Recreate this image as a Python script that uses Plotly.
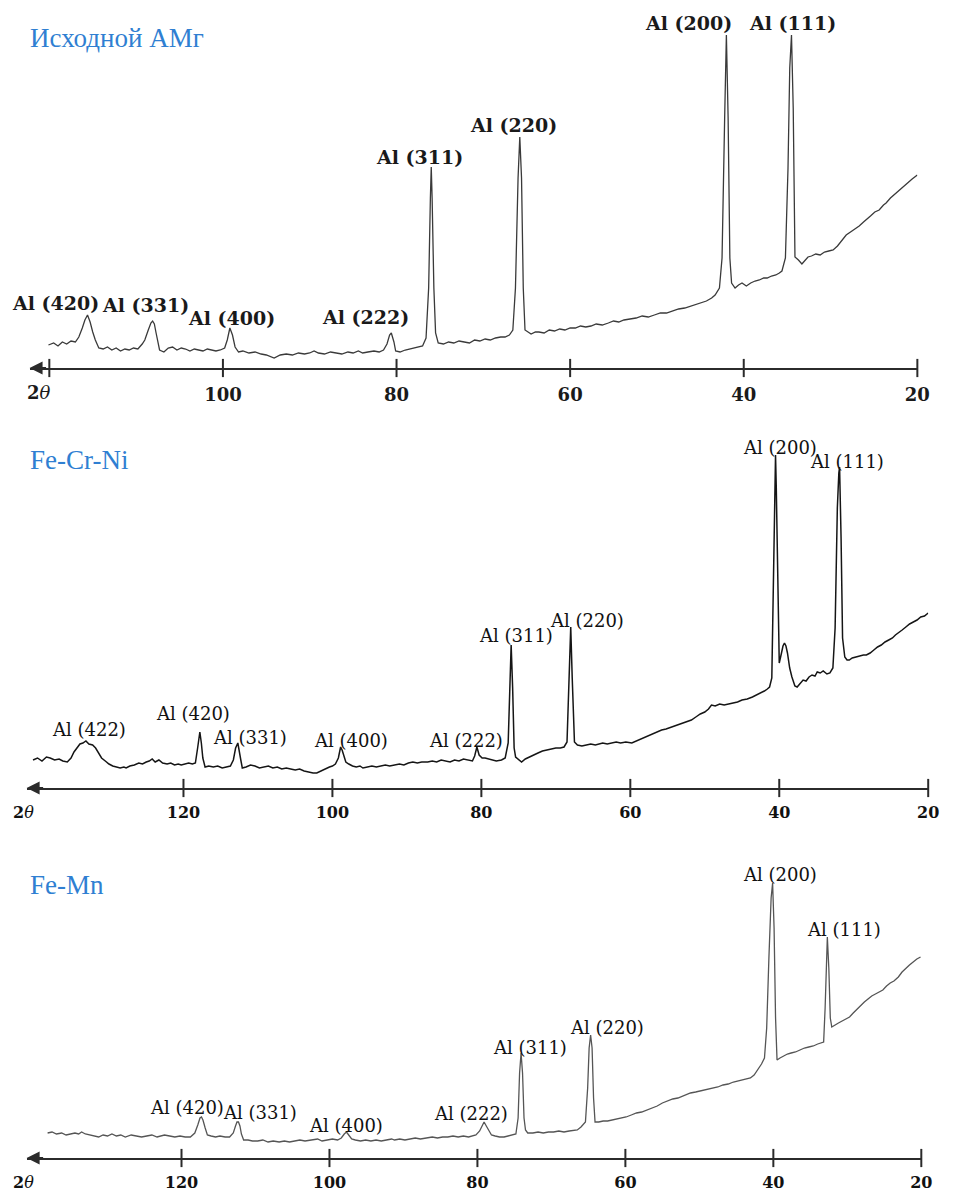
import plotly.graph_objects as go

# ---------------------------------------------------------------
# X-ray diffraction patterns (Cu Ka), intensity in arbitrary units
# ---------------------------------------------------------------

# Исходной АМг
tt_amg = [120.1, 119.5, 119.0, 118.5, 118.0, 117.5, 117.0, 116.6, 116.2, 115.9,
          115.6, 115.3, 115.0, 114.7, 114.3, 113.8, 113.3, 112.8, 112.3, 111.8,
          111.3, 110.8, 110.3, 109.8, 109.3, 109.0, 108.6, 108.3, 108.1, 107.9,
          107.7, 107.3, 106.8, 106.3, 105.8, 105.3, 104.8, 104.3, 103.8, 103.3,
          102.8, 102.3, 101.8, 101.3, 100.8, 100.3, 99.8, 99.5, 99.2, 98.9,
          98.6, 98.2, 97.7, 97.0, 96.3, 95.6, 95.0, 94.1, 93.4, 92.7,
          92.0, 91.3, 90.6, 90.0, 89.5, 89.0, 88.3, 87.6, 87.0, 86.3,
          85.6, 85.0, 84.4, 83.9, 83.3, 82.6, 82.0, 81.5, 81.1, 80.8,
          80.6, 80.3, 80.1, 79.6, 79.0, 78.5, 77.9, 77.4, 77.0, 76.6,
          76.3, 76.1, 76.0, 75.9, 75.7, 75.5, 75.2, 74.6, 74.0, 73.4,
          72.8, 72.2, 71.6, 71.0, 70.4, 69.8, 69.2, 68.6, 68.0, 67.5,
          67.0, 66.6, 66.3, 66.0, 65.8, 65.6, 65.4, 65.2, 64.9, 64.5,
          64.0, 63.6, 63.0, 62.4, 61.8, 61.2, 60.6, 60.0, 59.4, 58.8,
          58.2, 57.6, 57.0, 56.3, 55.6, 55.0, 54.4, 53.8, 53.1, 52.4,
          51.7, 51.0, 50.3, 49.6, 48.9, 48.2, 47.5, 46.8, 46.1, 45.5,
          44.9, 44.3, 43.7, 43.3, 42.8, 42.5, 42.2, 42.0, 41.8, 41.6,
          41.4, 41.0, 40.6, 40.2, 39.7, 39.2, 38.7, 38.2, 37.7, 37.3,
          36.8, 36.3, 35.9, 35.6, 35.2, 34.9, 34.7, 34.5, 34.3, 34.1,
          33.7, 33.3, 33.0, 32.6, 32.2, 31.7, 31.2, 30.7, 30.2, 29.7,
          29.2, 28.7, 28.2, 27.7, 27.2, 26.7, 26.2, 25.9, 25.4, 24.9,
          24.4, 23.9, 23.6, 23.1, 22.6, 22.1, 21.6, 21.1, 20.6, 20.0]
i_amg = [23, 25, 22, 26, 24, 27, 26, 31, 40, 48,
         53, 46, 36, 28, 20, 19, 21, 18, 20, 17,
         19, 18, 20, 19, 24, 28, 38, 45, 47, 44,
         35, 18, 16, 20, 21, 18, 20, 19, 17, 19,
         18, 17, 19, 18, 17, 18, 20, 28, 40, 33,
         21, 16, 17, 15, 16, 14, 13, 10, 13, 14,
         13, 15, 14, 15, 17, 15, 14, 16, 15, 14,
         16, 15, 17, 15, 16, 17, 16, 18, 24, 33,
         35, 26, 17, 16, 18, 19, 20, 21, 22, 30,
         80, 170, 201, 170, 80, 35, 25, 24, 26, 25,
         27, 26, 25, 28, 27, 29, 28, 30, 31, 31,
         33, 38, 80, 190, 231, 190, 80, 38, 36, 34,
         36, 36, 35, 38, 37, 39, 38, 40, 40, 42,
         41, 42, 44, 43, 45, 47, 46, 48, 49, 50,
         52, 51, 53, 55, 55, 57, 59, 60, 62, 63,
         65, 67, 70, 73, 80, 110, 250, 333, 250, 110,
         85, 80, 83, 85, 82, 85, 87, 88, 90, 90,
         92, 93, 95, 97, 110, 200, 300, 333, 260, 111,
         108, 104, 107, 111, 112, 114, 113, 116, 117, 118,
         122, 127, 133, 136, 139, 142, 146, 148, 152, 156,
         158, 163, 165, 170, 174, 178, 182, 185, 189, 193]

# Fe-Cr-Ni
tt_fecrni = [140.2, 139.6, 139.0, 138.4, 137.9, 137.3, 136.7, 136.2, 135.6, 135.1,
             134.7, 134.3, 133.9, 133.5, 133.1, 132.7, 132.2, 131.8, 131.4, 131.0,
             130.5, 130.0, 129.5, 129.0, 128.5, 128.0, 127.7, 127.2, 126.6, 126.0,
             125.5, 125.0, 124.6, 124.2, 123.8, 123.3, 122.8, 122.2, 121.7, 121.2,
             120.7, 120.3, 119.8, 119.3, 118.8, 118.4, 118.1, 117.9, 117.8, 117.6,
             117.4, 117.1, 116.6, 116.0, 115.4, 114.8, 114.2, 113.7, 113.3, 113.0,
             112.7, 112.5, 112.3, 112.1, 111.6, 111.0, 110.4, 109.8, 109.2, 108.6,
             108.0, 107.4, 106.8, 106.2, 105.6, 105.0, 104.4, 103.8, 103.2, 102.6,
             102.1, 101.6, 101.0, 100.4, 100.0, 99.6, 99.2, 98.9, 98.7, 98.4,
             98.2, 97.8, 97.3, 96.8, 96.3, 95.9, 95.3, 94.7, 94.1, 93.5,
             92.9, 92.3, 91.6, 91.0, 90.4, 89.8, 89.2, 88.6, 88.0, 87.2,
             86.6, 86.0, 85.4, 84.8, 84.2, 83.6, 83.0, 82.4, 81.8, 81.2,
             80.9, 80.6, 80.3, 79.9, 79.5, 79.0, 78.5, 78.0, 77.3, 76.8,
             76.4, 76.2, 76.0, 75.8, 75.6, 75.4, 75.0, 74.6, 74.1, 73.6,
             73.0, 72.4, 71.8, 71.2, 70.6, 70.0, 69.4, 68.9, 68.5, 68.2,
             68.0, 67.8, 67.5, 67.1, 66.5, 65.9, 65.3, 64.7, 64.1, 63.7,
             63.1, 62.5, 61.9, 61.3, 60.6, 59.8, 59.2, 58.6, 58.0, 57.4,
             56.9, 56.5, 55.8, 55.2, 54.5, 53.9, 53.2, 52.5, 51.8, 51.2,
             50.6, 50.0, 49.5, 49.1, 48.6, 48.0, 47.4, 46.8, 46.2, 45.6,
             45.0, 44.3, 43.6, 43.0, 42.5, 42.0, 41.6, 41.3, 41.0, 40.8,
             40.6, 40.5, 40.4, 40.2, 40.0, 39.7, 39.5, 39.3, 39.1, 38.9,
             38.6, 38.3, 37.9, 37.6, 37.2, 36.8, 36.4, 36.0, 35.6, 35.2,
             34.9, 34.5, 34.1, 33.6, 33.2, 32.8, 32.5, 32.2, 32.0, 31.9,
             31.7, 31.5, 31.2, 30.9, 30.6, 30.2, 29.7, 29.2, 28.7, 28.3,
             27.8, 27.3, 26.8, 26.3, 25.8, 25.3, 24.8, 24.4, 24.0, 23.5,
             23.0, 22.5, 22.0, 21.5, 21.0, 20.5, 20.0]
i_fecrni = [28, 30, 27, 31, 30, 28, 29, 27, 26, 30,
            36, 40, 44, 45, 47, 44, 43, 40, 35, 30,
            27, 24, 22, 21, 20, 21, 20, 22, 23, 25,
            24, 26, 27, 29, 26, 28, 25, 24, 25, 23,
            24, 23, 24, 25, 24, 25, 40, 52, 56, 45,
            30, 21, 22, 21, 22, 20, 21, 22, 28, 40,
            45, 38, 28, 20, 21, 23, 22, 20, 21, 22,
            20, 21, 19, 20, 19, 18, 19, 17, 16, 15,
            15, 17, 19, 21, 22, 24, 30, 41, 38, 30,
            26, 24, 22, 21, 22, 20, 21, 22, 21, 22,
            23, 22, 23, 24, 23, 25, 26, 25, 26, 26,
            27, 26, 28, 27, 26, 28, 27, 29, 28, 27,
            32, 41, 33, 30, 30, 29, 28, 27, 28, 30,
            45, 100, 143, 100, 40, 31, 28, 26, 29, 31,
            33, 35, 37, 38, 39, 40, 40, 41, 46, 110,
            161, 110, 46, 43, 42, 43, 44, 43, 44, 45,
            44, 45, 46, 45, 46, 45, 47, 49, 51, 53,
            54, 56, 58, 59, 61, 62, 64, 66, 68, 71,
            74, 76, 79, 83, 82, 84, 83, 84, 85, 86,
            88, 89, 91, 93, 95, 97, 99, 101, 110, 200,
            310, 333, 300, 200, 125, 135, 142, 145, 142, 135,
            120, 111, 102, 101, 105, 108, 107, 111, 113, 112,
            116, 115, 117, 114, 115, 120, 160, 280, 315, 321,
            250, 150, 131, 128, 128, 130, 131, 132, 133, 133,
            135, 138, 141, 143, 146, 148, 150, 153, 155, 158,
            161, 164, 166, 168, 171, 172, 175]

# Fe-Mn
tt_femn = [138.1, 137.5, 136.9, 136.2, 135.6, 135.0, 134.4, 133.9, 133.5, 133.0,
           132.4, 131.8, 131.2, 130.6, 130.0, 129.4, 128.8, 128.2, 127.6, 126.8,
           126.1, 125.4, 124.7, 124.0, 123.3, 122.3, 121.6, 120.9, 120.2, 119.5,
           118.8, 118.2, 117.8, 117.5, 117.3, 117.1, 116.8, 116.5, 116.0, 115.4,
           114.8, 114.1, 113.5, 113.0, 112.7, 112.5, 112.3, 112.1, 111.9, 111.6,
           111.0, 110.4, 109.7, 109.0, 108.3, 107.6, 106.8, 106.1, 105.4, 104.7,
           104.0, 103.3, 102.6, 102.3, 101.6, 101.0, 100.3, 99.6, 98.9, 98.4,
           98.0, 97.7, 97.4, 97.0, 96.5, 95.8, 95.1, 94.4, 93.7, 93.0,
           92.3, 91.6, 91.2, 90.5, 89.8, 89.1, 88.4, 87.7, 87.0, 86.8,
           86.1, 85.4, 84.7, 84.0, 83.3, 82.6, 81.9, 81.2, 80.8, 80.2,
           79.7, 79.3, 79.1, 78.8, 78.4, 78.1, 77.6, 77.0, 76.4, 75.9,
           75.4, 74.8, 74.5, 74.3, 74.1, 73.9, 73.7, 73.5, 73.2, 72.5,
           71.8, 71.1, 70.4, 69.7, 69.0, 68.3, 67.6, 66.9, 66.5, 66.0,
           65.4, 65.1, 64.9, 64.7, 64.5, 64.3, 64.1, 63.6, 63.0, 62.4,
           61.8, 61.2, 60.5, 59.9, 59.2, 58.5, 57.8, 57.1, 56.4, 55.7,
           55.0, 54.3, 53.6, 52.9, 52.2, 51.9, 51.2, 50.5, 49.8, 49.1,
           48.4, 47.5, 46.8, 46.1, 45.4, 44.7, 44.0, 43.1, 42.6, 42.1,
           41.6, 41.2, 40.9, 40.6, 40.3, 40.1, 39.9, 39.7, 39.5, 39.1,
           38.6, 38.1, 37.6, 37.0, 36.4, 35.8, 35.2, 34.6, 34.0, 33.5,
           33.2, 33.0, 32.8, 32.7, 32.5, 32.3, 32.1, 31.7, 31.2, 30.7,
           30.2, 29.7, 29.2, 28.7, 28.2, 27.7, 27.2, 26.7, 26.2, 25.7,
           25.2, 24.7, 24.2, 23.7, 23.1, 22.6, 22.1, 21.6, 21.1, 20.6,
           20.1]
i_femn = [25, 26, 24, 25, 23, 24, 25, 24, 26, 24,
          23, 22, 21, 23, 22, 24, 22, 23, 21, 23,
          22, 21, 22, 23, 21, 23, 22, 21, 22, 21,
          21, 25, 33, 40, 41, 38, 30, 23, 22, 21,
          22, 21, 21, 25, 32, 36, 36, 32, 24, 18,
          18, 17, 17, 18, 16, 17, 16, 17, 16, 17,
          18, 17, 18, 18, 19, 17, 18, 19, 18, 20,
          24, 26, 23, 19, 18, 17, 18, 17, 18, 17,
          18, 19, 18, 19, 18, 19, 20, 19, 20, 20,
          21, 20, 21, 21, 22, 21, 22, 21, 22, 23,
          27, 34, 36, 32, 26, 23, 22, 21, 21, 22,
          23, 24, 40, 85, 105, 85, 40, 28, 25, 25,
          26, 25, 26, 26, 27, 26, 27, 28, 28, 31,
          36, 70, 110, 123, 110, 60, 36, 36, 37, 37,
          38, 39, 40, 41, 43, 45, 46, 48, 50, 52,
          55, 57, 59, 60, 62, 63, 65, 66, 67, 68,
          69, 71, 73, 74, 76, 77, 78, 80, 83, 88,
          94, 100, 130, 200, 260, 275, 230, 140, 98, 100,
          102, 104, 105, 106, 108, 110, 111, 112, 114, 115,
          116, 150, 210, 221, 190, 140, 131, 133, 135, 137,
          139, 141, 145, 149, 152, 156, 159, 162, 164, 166,
          168, 172, 175, 177, 181, 186, 190, 193, 196, 199,
          201]

# Indexed Al reflections and the 2θ at which each is labelled
hkl_amg = ["420", "331", "400", "222", "311", "220", "200", "111"]
pos_amg = [115.6, 108.1, 99.2, 80.6, 76.0, 65.8, 42.0, 34.5]

hkl_fecrni = ["422", "420", "331", "400", "222", "311", "220", "200", "111"]
pos_fecrni = [133.1, 117.8, 112.7, 98.9, 80.6, 76.0, 68.0, 40.5, 31.9]

hkl_femn = ["420", "331", "400", "222", "311", "220", "200", "111"]
pos_femn = [117.3, 112.4, 97.7, 79.1, 74.1, 64.7, 40.1, 32.7]

tick_vals_amg = [100, 80, 60, 40, 20]
tick_vals_wide = [120, 100, 80, 60, 40, 20]
tick_marks_amg = [120, 100, 80, 60, 40, 20]

# ---------------------------------------------------------------
# Layout of the three stacked panels (pixel geometry of the page)
# ---------------------------------------------------------------
W, H = 956, 1194
TITLE_BLUE = "#2f7fd2"
AXIS_COL = "#2b2b2b"

panels = [
    dict(title="Исходной АМг", tt=tt_amg, inten=i_amg, hkl=hkl_amg, pos=pos_amg,
         tickvals=tick_vals_amg, tickmarks=tick_marks_amg,
         left_px=30, p20=930, p100=226, axis_px=368, top_px=0, title_px=38,
         theta_px=40, line=dict(color="#3a3a3a", width=1.3),
         lab_font=dict(family="DejaVu Serif", size=19, color="#1a1a1a"),
         lab_bold=True,
         tick_font=dict(family="DejaVu Serif", size=18, color="#1a1a1a"),
         shifts=[(-32, 12), (-7, 16), (2, 10), (-26, 16), (-12, 10), (-6, 12), (-38, 12), (1, 12)]),
    dict(title="Fe-Cr-Ni", tt=tt_fecrni, inten=i_fecrni, hkl=hkl_fecrni, pos=pos_fecrni,
         tickvals=tick_vals_wide, tickmarks=tick_vals_wide,
         left_px=27, p20=941, p100=337, axis_px=788, top_px=400, title_px=460,
         theta_px=24, line=dict(color="#151515", width=1.5),
         lab_font=dict(family="DejaVu Serif", size=18, color="#111111"),
         lab_bold=False,
         tick_font=dict(family="DejaVu Serif", size=16, color="#111111"),
         shifts=[(3, 12), (-7, 19), (12, 6), (10, 7), (-11, 7), (5, 10), (16, 7), (4, 7), (7, 5)]),
    dict(title="Fe-Mn", tt=tt_femn, inten=i_femn, hkl=hkl_femn, pos=pos_femn,
         tickvals=tick_vals_wide, tickmarks=tick_vals_wide,
         left_px=27, p20=934, p100=334, axis_px=1158, top_px=820, title_px=885,
         theta_px=24, line=dict(color="#555555", width=1.3),
         lab_font=dict(family="DejaVu Serif", size=18, color="#111111"),
         lab_bold=False,
         tick_font=dict(family="DejaVu Serif", size=16, color="#111111"),
         shifts=[(-14, 10), (22, 10), (0, 7), (-13, 9), (9, 6), (16, 8), (7, 8), (17, 7)]),
]

fig = go.Figure()
annotations = []
layout_axes = {}

for n, p in enumerate(panels, start=1):
    sfx = "" if n == 1 else str(n)
    xref, yref = "x" + sfx, "y" + sfx

    # horizontal scale: degrees per pixel from the 20 and 100 ticks
    k = (p["p20"] - p["p100"]) / 80.0
    x_left = 20 + (p["p20"] - p["left_px"]) / k
    y_top = p["axis_px"] - p["top_px"]

    layout_axes["xaxis" + sfx] = dict(
        domain=[p["left_px"] / W, p["p20"] / W],
        range=[x_left, 20], autorange=False,
        anchor=yref, showline=True, linecolor=AXIS_COL, linewidth=2,
        showgrid=False, zeroline=False,
        tickmode="array", tickvals=p["tickvals"],
        ticktext=[f"<b>{v}</b>" for v in p["tickvals"]],
        ticks="outside", ticklen=9, tickcolor="rgba(0,0,0,0)",
        tickfont=p["tick_font"],
    )
    layout_axes["yaxis" + sfx] = dict(
        domain=[(H - p["axis_px"]) / H, (H - p["top_px"]) / H],
        range=[0, y_top], autorange=False, visible=False,
    )

    # diffraction curve
    fig.add_trace(go.Scatter(x=p["tt"], y=p["inten"], mode="lines",
                             line=p["line"], xaxis=xref, yaxis=yref,
                             hoverinfo="skip"))
    # tick marks crossing the axis line
    fig.add_trace(go.Scatter(x=p["tickmarks"], y=[0] * len(p["tickmarks"]),
                             mode="markers", cliponaxis=False,
                             marker=dict(symbol="line-ns", size=13,
                                         line=dict(color=AXIS_COL, width=2)),
                             xaxis=xref, yaxis=yref, hoverinfo="skip"))

    # arrow head at the high-angle end of the axis
    annotations.append(dict(x=x_left, y=0, xref=xref, yref=yref, text="",
                            showarrow=True, ax=18, ay=0, arrowhead=2,
                            arrowsize=1.3, arrowwidth=2, arrowcolor=AXIS_COL))

    # axis name
    annotations.append(dict(x=p["theta_px"] / W, xref="paper", y=0, yref=yref,
                            yshift=-24, text="<b>2</b><i>θ</i>", showarrow=False,
                            xanchor="center", yanchor="middle",
                            font=p["tick_font"]))

    # sample name
    annotations.append(dict(x=28 / W, y=(H - p["title_px"]) / H, xref="paper",
                            yref="paper", text=p["title"], showarrow=False,
                            xanchor="left", yanchor="middle",
                            font=dict(family="Liberation Serif", size=27,
                                      color=TITLE_BLUE)))

    # reflection labels just above the peak maxima
    for h, x0, (dx, dy) in zip(p["hkl"], p["pos"], p["shifts"]):
        win = 1.2 if h == "422" else 0.5
        top = max(v for t, v in zip(p["tt"], p["inten"]) if abs(t - x0) <= win)
        txt = f"Al ({h})"
        if p["lab_bold"]:
            txt = f"<b>{txt}</b>"
        annotations.append(dict(x=x0, y=top, xref=xref, yref=yref, text=txt,
                                showarrow=False, xanchor="center",
                                yanchor="middle", xshift=dx, yshift=dy,
                                font=p["lab_font"]))

fig.update_layout(
    width=W, height=H, margin=dict(l=0, r=0, t=0, b=0),
    paper_bgcolor="white", plot_bgcolor="white", showlegend=False,
    annotations=annotations, **layout_axes,
)

fig.write_html("out.html")
